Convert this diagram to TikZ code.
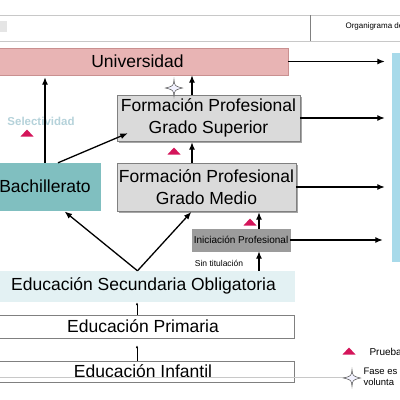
\documentclass[tikz,border=0pt]{standalone}
\usepackage{fontspec}
\setmainfont{Liberation Sans}
\usetikzlibrary{arrows.meta,shadows}
\definecolor{rosa}{HTML}{E8B4B4}
\definecolor{rosaborde}{HTML}{C99090}
\definecolor{gris}{HTML}{DADADA}
\definecolor{grisoscuro}{HTML}{9C9C9C}
\definecolor{verde}{HTML}{80BFC0}
\definecolor{celeste}{HTML}{E3F1F3}
\definecolor{azul}{HTML}{A8DAEA}
\definecolor{rojo}{HTML}{D4155A}
\definecolor{selec}{HTML}{B5D2DA}
\definecolor{linea}{HTML}{C8C8C8}
\tikzset{
  caja/.style={draw=#1, inner sep=0pt, align=center, font=\fontsize{17.5}{22}\selectfont},
  caja/.default=gray,
  sombra/.style={drop shadow={shadow xshift=2pt, shadow yshift=-2pt, fill=gray!70, opacity=1}},
  flecha/.style={-{Latex[length=7.5pt,width=6pt]}, line width=1.3pt},
  flechita/.style={-{Latex[length=3pt,width=2.5pt]}, line width=0.6pt},
  prueba/.pic={\fill[rojo] (-6.5,3.5) -- (6.5,3.5) -- (0,-3.5) -- cycle;},
  fase/.pic={\filldraw[fill=blue!5, draw=black!70, line width=0.5pt]
    (0,-8.5) .. controls (0.6,-2) .. (8.5,0) .. controls (0.6,2) .. (0,8.5)
    .. controls (-0.6,2) .. (-8.5,0) .. controls (-0.6,-2) .. (0,-8.5) -- cycle;}
}
\begin{document}
\begin{tikzpicture}[x=1pt,y=-1pt]
  \useasboundingbox (0,0) rectangle (400,400);
  \clip (0,0) rectangle (400,400);
  \draw[linea] (0,15) -- (400,15);
  \draw[linea] (0,41) -- (400,41);
  \draw[gray] (310,15) -- (310,41);
  \fill[gray!20] (0,21) rectangle (7,32);
  \node[anchor=west, font=\fontsize{8}{9}\selectfont] (titulo) at (342,26) {Organigrama del};

  \node[caja=rosaborde, fill=rosa, minimum width=301pt, minimum height=27pt] (univ) at (137.5,61.5) {Universidad};
  \node[caja, fill=gris, sombra, minimum width=183pt, minimum height=46pt] (fps) at (208.5,118) {Formación Profesional\\Grado Superior};
  \node[caja, fill=gris, sombra, minimum width=179pt, minimum height=48pt] (fpm) at (206.5,187) {Formación Profesional\\Grado Medio};
  \node[caja=verde, fill=verde, minimum width=110pt, minimum height=47pt] (bach) at (45,186.5) {Bachillerato};
  \node[caja=grisoscuro, fill=grisoscuro, minimum width=98pt, minimum height=22pt, font=\fontsize{10}{12}\selectfont] (ip) at (241,240) {Iniciación Profesional};
  \node[caja=celeste, fill=celeste, minimum width=301pt, minimum height=30pt] (eso) at (143.5,286) {Educación Secundaria Obligatoria};
  \node[caja, minimum width=302pt, minimum height=23pt] (prim) at (143,326.5) {Educación Primaria};
  \node[caja, minimum width=302pt, minimum height=21pt] (inf) at (143,371.5) {Educación Infantil};
  \node[draw=none, fill=azul, minimum width=16pt, minimum height=209pt] (bar) at (400,157.5) {};

  \node[text=selec, font=\bfseries\fontsize{11.5}{13}\selectfont] (selectividad) at (41,121) {Selectividad};
  \node[font=\fontsize{8.5}{10}\selectfont] (sintit) at (219,263) {Sin titulación};

  \draw[flecha, shorten >=7pt] (univ.east) -- (univ.east -| bar.west);
  \draw[flecha, shorten >=7pt] (fps.east) -- (fps.east -| bar.west);
  \draw[flecha, shorten >=7pt] (fpm.east) -- (fpm.east -| bar.west);
  \draw[flecha, shorten >=9pt] (ip.east) -- (ip.east -| bar.west);

  \draw[flecha, shorten >=2pt] (bach.north) -- (bach.north |- univ.south);
  \draw[flecha] ([xshift=-16.5pt]fps.north) -- ([xshift=-16.5pt]fps.north |- univ.south);
  \draw[flecha, shorten >=1pt] ([xshift=-14.5pt]fpm.north) -- ([xshift=-14.5pt]fpm.north |- fps.south);
  \draw[flecha] ([xshift=13pt]bach.north) -- ([xshift=11pt,yshift=8pt]fps.south west);

  \coordinate (vertice) at ([xshift=-6pt]eso.north);
  \draw[flecha, shorten >=2pt] (vertice) -- ([xshift=18pt]bach.south);
  \draw[flecha, shorten >=1pt] (vertice) -- ([xshift=-14.5pt]fpm.south);
  \draw[flecha] ([xshift=18pt]ip.south |- eso.north) -- ([xshift=18pt]ip.south);
  \draw[flecha, shorten >=1pt] ([xshift=18pt]ip.north) -- ([xshift=18pt]ip.north |- fpm.south);

  \draw[flechita, shorten >=1pt] ([xshift=-6pt]prim.north) -- ([xshift=-6pt]prim.north |- eso.south);
  \draw[flechita, shorten >=7pt] ([xshift=-6pt]inf.north) -- ([xshift=-6pt]inf.north |- prim.south);

  \pic at (27,133) {prueba};
  \pic at (174,151) {prueba};
  \pic at (250,222) {prueba};
  \pic at (174,88) {fase};

  \draw[linea] (0,377) -- (346,377);
  \pic at (349,351) {prueba};
  \pic at (352,378) {fase};
  \node[anchor=west, font=\fontsize{10}{11}\selectfont] (leyprueba) at (366,352) {Prueba};
  \node[anchor=west, align=left, font=\fontsize{9.5}{10.5}\selectfont] (leyfase) at (360,377) {Fase es\\volunta};
\end{tikzpicture}
\end{document}
